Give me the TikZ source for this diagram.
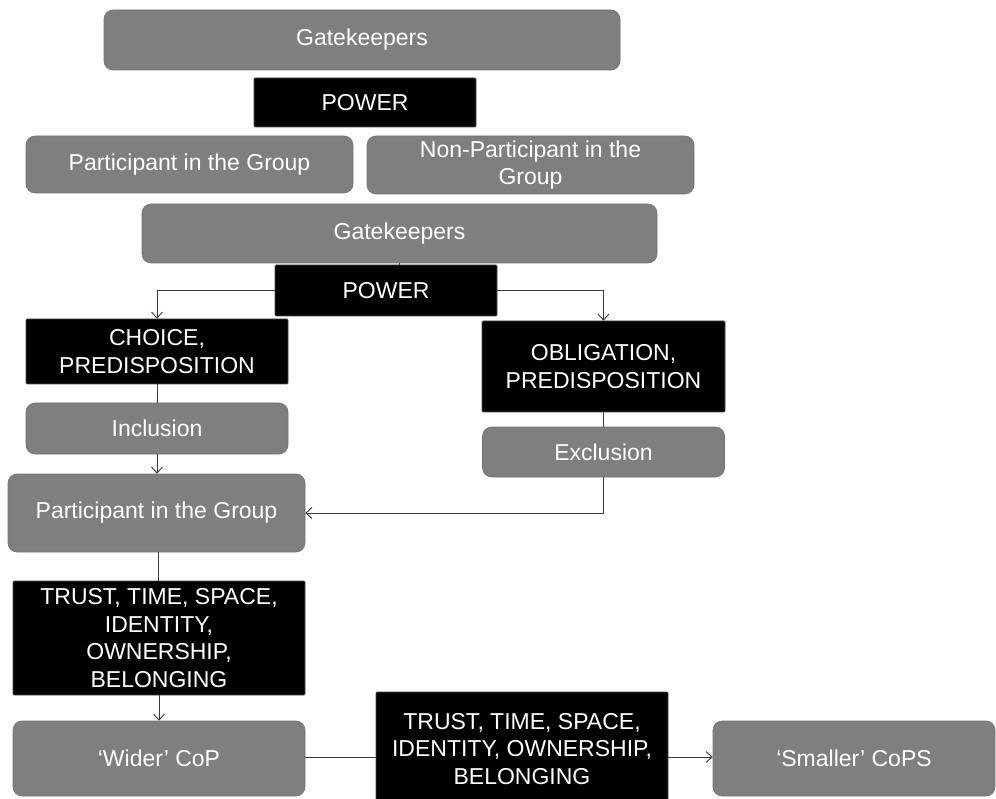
\documentclass[tikz,border=0pt]{standalone}
\usepackage{fontspec}
\setmainfont{Liberation Sans}
\usetikzlibrary{arrows.meta}
\definecolor{boxgray}{HTML}{7F7F7F}
\definecolor{linegray}{HTML}{3A3A3A}
\tikzset{
  x=1pt, y=-1pt,
  basebox/.style={inner sep=0pt, align=center, text=white,
    font=\fontsize{23}{27.5}\selectfont},
  graybox/.style={basebox, fill=boxgray, draw=boxgray!90!black, line width=0.6pt, rounded corners=9pt},
  blackbox/.style={basebox, fill=black, draw=black!70, line width=0.6pt, rounded corners=1pt},
  conn/.style={draw=linegray, line width=0.9pt},
  arr/.style={conn, -{Straight Barb[length=6pt,width=11pt]}}
}
\begin{document}
\begin{tikzpicture}
\clip (0,0) rectangle (996,799);
\fill[white] (0,0) rectangle (996,799);
% top block
\node[graybox, minimum width=516pt, minimum height=60pt] (gk1) at (362,40) {Gatekeepers};
\node[blackbox, minimum width=222pt, minimum height=49pt] (pw1) at (365,102.5) {POWER};
\node[graybox, minimum width=327pt, minimum height=57pt] (part1) at (189.5,164.5) {Participant in the Group};
\node[graybox, minimum width=327pt, minimum height=58pt] (nonpart) at (530.5,165) {Non-Participant in the\\Group};
% main flow
\node[graybox, minimum width=515pt, minimum height=59pt] (gk2) at (399.5,233.5) {Gatekeepers};
\node[blackbox, minimum width=222pt, minimum height=51pt] (pw2) at (386,290.5) {POWER};
\node[blackbox, minimum width=262pt, minimum height=65pt] (choice) at (157,351.5) {CHOICE,\\PREDISPOSITION};
\node[blackbox, minimum width=243pt, minimum height=91pt] (oblig) at (603.5,366.5) {OBLIGATION,\\PREDISPOSITION};
\node[graybox, minimum width=262pt, minimum height=51pt] (incl) at (157,428.5) {Inclusion};
\node[graybox, minimum width=242pt, minimum height=50pt] (excl) at (603.5,452) {Exclusion};
\node[graybox, minimum width=297pt, minimum height=78pt] (part2) at (156.5,513) {Participant in the Group};
\node[blackbox, minimum width=292pt, minimum height=114pt] (trust1) at (159,638) {TRUST, TIME, SPACE,\\IDENTITY,\\OWNERSHIP,\\BELONGING};
\node[graybox, minimum width=292pt, minimum height=75pt] (wider) at (159,758.5) {‘Wider’ CoP};
\node[blackbox, minimum width=292pt, minimum height=114pt] (trust2) at (522,749) {TRUST, TIME, SPACE,\\IDENTITY, OWNERSHIP,\\BELONGING};
\node[graybox, minimum width=282pt, minimum height=75pt] (smaller) at (854,758.5) {‘Smaller’ CoPS};
% connectors
\draw[conn] (gk2.south) -- (gk2.south |- pw2.north);
\draw[arr] (pw2.west) -| (choice.north);
\draw[arr] (pw2.east) -| (oblig.north);
\draw[conn] (choice.south) -- (incl.north);
\draw[arr] (incl.south) -- (incl.south |- part2.north);
\draw[conn] (oblig.south) -- (oblig.south |- excl.north);
\draw[arr] (excl.south) |- (part2.east);
\draw[conn] (part2.south -| trust1.north) ++(-1,0) coordinate (p2s) -- (p2s |- trust1.north);
\draw[arr] (trust1.south) -- (wider.north);
\coordinate (wy) at (0,757);
\draw[conn] (wider.east |- wy) -- (trust2.west |- wy);
\draw[arr] (trust2.east |- wy) -- (smaller.west |- wy);
\end{tikzpicture}
\end{document}
